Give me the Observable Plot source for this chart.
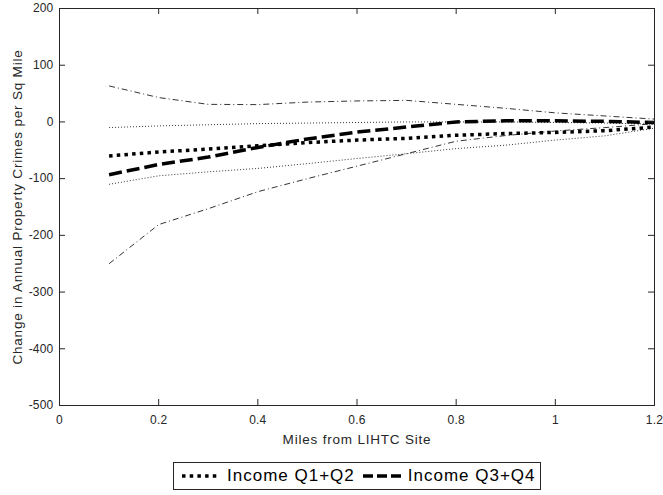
<!DOCTYPE html>
<html>
<head>
<meta charset="utf-8">
<script src="https://cdn.jsdelivr.net/npm/d3@7"></script>
<script src="https://cdn.jsdelivr.net/npm/@observablehq/plot@0.6"></script>
<style>
  html, body { margin: 0; padding: 0; background: #fff; }
  #chart svg { overflow: visible; }
  #chart svg text { letter-spacing: 0.2px; }
  #legend {
    box-sizing: border-box;
    width: 368px; height: 28px;
    margin: 7px 0 0 173px;
    border: 1px solid #262626;
    display: flex; align-items: center;
    padding-left: 7px;
    font-family: "Liberation Sans", Arial, sans-serif;
    font-size: 17px; letter-spacing: 1px; color: #000;
  }
  #legend .item { display: flex; align-items: center; }
  #legend .item + .item { margin-left: 7px; }
  #legend svg { margin-right: 6px; }
</style>
</head>
<body>
<div id="chart"></div>
<div id="legend"></div>
<script>
// ---- data ----
const xMiles   = [0.1, 0.2, 0.3, 0.4, 0.5, 0.6, 0.7, 0.8, 0.9, 1.0, 1.1, 1.2];
const q12Mean  = [-60, -53, -48, -42, -36.5, -32, -29, -23.5, -20.5, -18.5, -15.5, -9];
const q12Lo    = [-110, -95, -88, -82, -73.5, -64.5, -56, -47, -41, -32, -24.5, -11];
const q12Hi    = [-10, -7, -5, -3, -2, -1, 0, 0, 0, -1, -2, -4];
const q34Mean  = [-93, -75, -62, -45, -30, -18, -9, 0, 2, 2, 1, -1];
const q34Lo    = [-250, -181, -153, -123, -100, -78, -56, -34, -24, -16, -10, -3];
const q34Hi    = [63.5, 43, 31, 30.5, 35, 37, 38, 31, 24, 16, 10.5, 5];
const seriesNames = ["Income Q1+Q2", "Income Q3+Q4"];
const xTicks = [0, 0.2, 0.4, 0.6, 0.8, 1, 1.2];
const xTickLabels = ["0", "0.2", "0.4", "0.6", "0.8", "1", "1.2"];
const yTicks = [-500, -400, -300, -200, -100, 0, 100, 200];
const yTickLabels = ["-500", "-400", "-300", "-200", "-100", "0", "100", "200"];
const xLabel = "Miles from LIHTC Site";
const yLabel = "Change in Annual Property Crimes per Sq Mile";

// ---- styles ----
const INK = "#262626";
const dotThick  = {stroke: "#000", strokeWidth: 3.5, strokeDasharray: "3.5 4.2"};
const dashThick = {stroke: "#000", strokeWidth: 3.5, strokeDasharray: "13 5"};
const dotThin   = {stroke: "#000", strokeWidth: 0.8, strokeDasharray: "1 2"};
const dashDotThin = {stroke: "#000", strokeWidth: 0.8, strokeDasharray: "6 3 1 3"};

const rows = arr => xMiles.map((x, i) => ({x, y: arr[i]}));
const line = (arr, style) => Plot.line(rows(arr), {x: "x", y: "y", strokeLinecap: "butt", ...style});

const W = 663, H = 455;
const mL = 59, mR = 9, mT = 8, mB = 50;
const innerH = H - mT - mB, innerW = W - mL - mR, TK = 6;

const chart = Plot.plot({
  width: W, height: H,
  marginLeft: mL, marginRight: mR, marginTop: mT, marginBottom: mB,
  style: {fontFamily: "'Liberation Sans', Arial, sans-serif", fontSize: "12px", color: INK, background: "#fff"},
  x: {domain: [0, 1.2]},
  y: {domain: [-500, 200]},
  marks: [
    line(q34Hi, dashDotThin),
    line(q34Lo, dashDotThin),
    line(q12Hi, dotThin),
    line(q12Lo, dotThin),
    line(q34Mean, dashThick),
    line(q12Mean, dotThick),
    // inward ticks on all four sides
    Plot.tickX(xTicks, {x: d => d, stroke: INK, insetTop: innerH - TK}),
    Plot.tickX(xTicks, {x: d => d, stroke: INK, insetBottom: innerH - TK}),
    Plot.tickY(yTicks, {y: d => d, stroke: INK, insetLeft: innerW - TK}),
    Plot.tickY(yTicks, {y: d => d, stroke: INK, insetRight: innerW - TK}),
    Plot.frame({stroke: INK, strokeWidth: 1}),
    Plot.axisX({
      ticks: xTicks, tickSize: 0, tickPadding: 10,
      tickFormat: d => xTickLabels[xTicks.indexOf(d)],
      label: xLabel, labelAnchor: "center", labelArrow: "none", labelOffset: 38,
      fontSize: 12
    }),
    Plot.axisY({
      ticks: yTicks, tickSize: 0, tickPadding: 6,
      tickFormat: d => yTickLabels[yTicks.indexOf(d)],
      label: yLabel, labelAnchor: "center", labelArrow: "none", labelOffset: 47,
      fontSize: 12
    })
  ]
});
document.getElementById("chart").appendChild(chart);

// axis titles slightly larger
d3.select(chart).selectAll("text").each(function() {
  const t = this.textContent;
  if (t === xLabel || t === yLabel) d3.select(this).style("font-size", "13.5px").style("letter-spacing", "0.8px");
});

// ---- legend ----
const legendStyles = [dotThick, dashThick];
const legend = d3.select("#legend");
seriesNames.forEach((name, i) => {
  const item = legend.append("div").attr("class", "item");
  const s = legendStyles[i];
  const sw = item.append("svg").attr("width", 40).attr("height", 10);
  sw.append("line")
    .attr("x1", 1).attr("x2", 39).attr("y1", 5).attr("y2", 5)
    .attr("stroke", s.stroke).attr("stroke-width", s.strokeWidth)
    .attr("stroke-dasharray", i === 0 ? "3.5 4.2" : "10 4");
  item.append("span").text(name);
});
</script>
</body>
</html>
